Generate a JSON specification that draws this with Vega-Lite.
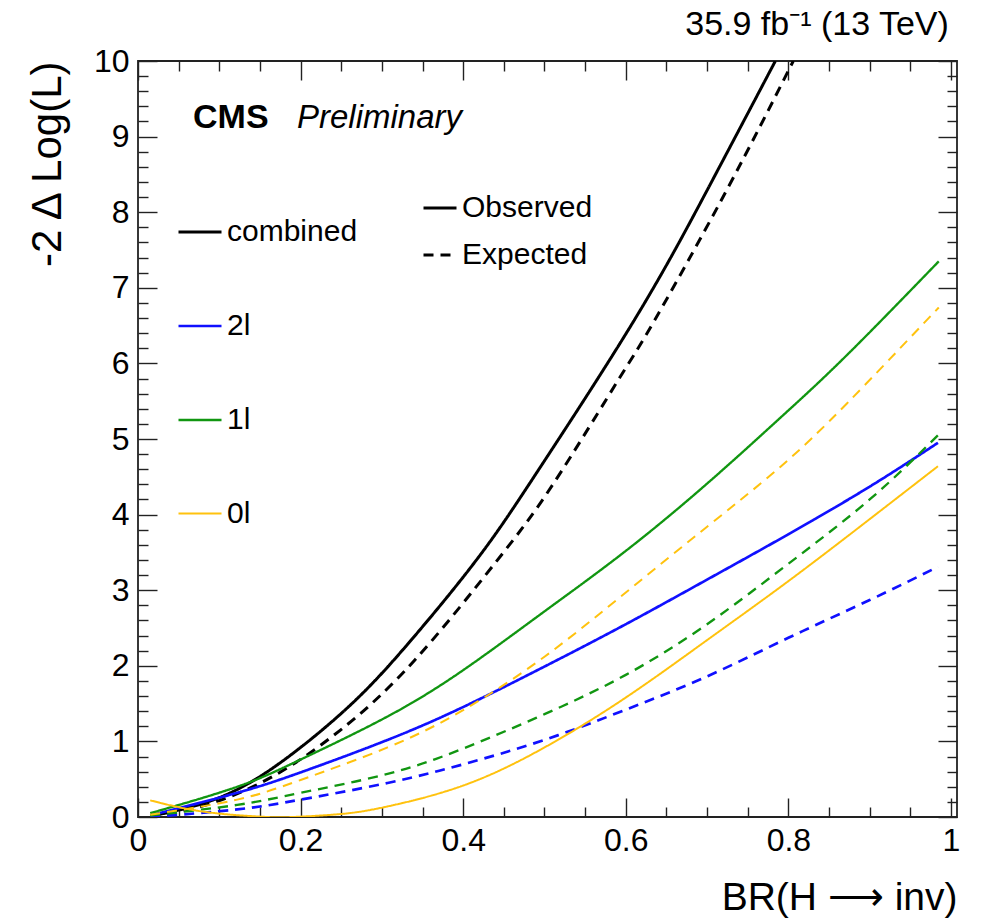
{
  "$schema": "https://vega.github.io/schema/vega-lite/v6.json",
  "autosize": {"type": "none"},
  "padding": {"left": 138, "top": 61, "right": 25, "bottom": 106},
  "width": 819,
  "height": 756,
  "config": {
    "font": "Liberation Sans",
    "view": {"stroke": "#222", "strokeWidth": 1.8},
    "axis": {"grid": false, "tickColor": "#222", "tickWidth": 1.4, "labelColor": "#000", "titleColor": "#000", "domain": false}
  },
  "title": {"text": "35.9 fb⁻¹ (13 TeV)", "anchor": "end", "fontSize": 34, "fontWeight": "normal", "baseline": "alphabetic", "offset": 8, "dy": 32, "dx": -11, "color": "#000"},
  "datasets": {
    "curves": [
      {"br": 0.015, "nll": 0.01, "series": "combined", "type": "Observed"},
      {"br": 0.08, "nll": 0.18, "series": "combined", "type": "Observed"},
      {"br": 0.155, "nll": 0.57, "series": "combined", "type": "Observed"},
      {"br": 0.25, "nll": 1.37, "series": "combined", "type": "Observed"},
      {"br": 0.328, "nll": 2.24, "series": "combined", "type": "Observed"},
      {"br": 0.417, "nll": 3.41, "series": "combined", "type": "Observed"},
      {"br": 0.495, "nll": 4.63, "series": "combined", "type": "Observed"},
      {"br": 0.612, "nll": 6.6, "series": "combined", "type": "Observed"},
      {"br": 0.702, "nll": 8.33, "series": "combined", "type": "Observed"},
      {"br": 0.784, "nll": 10.0, "series": "combined", "type": "Observed"},

      {"br": 0.015, "nll": 0.0, "series": "combined", "type": "Expected"},
      {"br": 0.081, "nll": 0.15, "series": "combined", "type": "Expected"},
      {"br": 0.163, "nll": 0.52, "series": "combined", "type": "Expected"},
      {"br": 0.249, "nll": 1.15, "series": "combined", "type": "Expected"},
      {"br": 0.34, "nll": 2.07, "series": "combined", "type": "Expected"},
      {"br": 0.44, "nll": 3.37, "series": "combined", "type": "Expected"},
      {"br": 0.511, "nll": 4.41, "series": "combined", "type": "Expected"},
      {"br": 0.593, "nll": 5.82, "series": "combined", "type": "Expected"},
      {"br": 0.636, "nll": 6.58, "series": "combined", "type": "Expected"},
      {"br": 0.724, "nll": 8.29, "series": "combined", "type": "Expected"},
      {"br": 0.806, "nll": 10.0, "series": "combined", "type": "Expected"},

      {"br": 0.015, "nll": 0.02, "series": "2l", "type": "Observed"},
      {"br": 0.122, "nll": 0.32, "series": "2l", "type": "Observed"},
      {"br": 0.2, "nll": 0.59, "series": "2l", "type": "Observed"},
      {"br": 0.307, "nll": 1.02, "series": "2l", "type": "Observed"},
      {"br": 0.401, "nll": 1.46, "series": "2l", "type": "Observed"},
      {"br": 0.5, "nll": 1.99, "series": "2l", "type": "Observed"},
      {"br": 0.6, "nll": 2.55, "series": "2l", "type": "Observed"},
      {"br": 0.7, "nll": 3.14, "series": "2l", "type": "Observed"},
      {"br": 0.8, "nll": 3.74, "series": "2l", "type": "Observed"},
      {"br": 0.9, "nll": 4.37, "series": "2l", "type": "Observed"},
      {"br": 0.984, "nll": 4.95, "series": "2l", "type": "Observed"},

      {"br": 0.015, "nll": 0.0, "series": "2l", "type": "Expected"},
      {"br": 0.122, "nll": 0.1, "series": "2l", "type": "Expected"},
      {"br": 0.2, "nll": 0.23, "series": "2l", "type": "Expected"},
      {"br": 0.307, "nll": 0.45, "series": "2l", "type": "Expected"},
      {"br": 0.401, "nll": 0.7, "series": "2l", "type": "Expected"},
      {"br": 0.5, "nll": 1.02, "series": "2l", "type": "Expected"},
      {"br": 0.6, "nll": 1.42, "series": "2l", "type": "Expected"},
      {"br": 0.7, "nll": 1.86, "series": "2l", "type": "Expected"},
      {"br": 0.8, "nll": 2.37, "series": "2l", "type": "Expected"},
      {"br": 0.9, "nll": 2.87, "series": "2l", "type": "Expected"},
      {"br": 0.984, "nll": 3.31, "series": "2l", "type": "Expected"},

      {"br": 0.015, "nll": 0.05, "series": "1l", "type": "Observed"},
      {"br": 0.122, "nll": 0.4, "series": "1l", "type": "Observed"},
      {"br": 0.2, "nll": 0.76, "series": "1l", "type": "Observed"},
      {"br": 0.307, "nll": 1.33, "series": "1l", "type": "Observed"},
      {"br": 0.401, "nll": 1.95, "series": "1l", "type": "Observed"},
      {"br": 0.5, "nll": 2.72, "series": "1l", "type": "Observed"},
      {"br": 0.6, "nll": 3.52, "series": "1l", "type": "Observed"},
      {"br": 0.7, "nll": 4.41, "series": "1l", "type": "Observed"},
      {"br": 0.79, "nll": 5.28, "series": "1l", "type": "Observed"},
      {"br": 0.872, "nll": 6.11, "series": "1l", "type": "Observed"},
      {"br": 0.985, "nll": 7.35, "series": "1l", "type": "Observed"},

      {"br": 0.015, "nll": 0.02, "series": "1l", "type": "Expected"},
      {"br": 0.122, "nll": 0.16, "series": "1l", "type": "Expected"},
      {"br": 0.2, "nll": 0.32, "series": "1l", "type": "Expected"},
      {"br": 0.307, "nll": 0.57, "series": "1l", "type": "Expected"},
      {"br": 0.401, "nll": 0.91, "series": "1l", "type": "Expected"},
      {"br": 0.5, "nll": 1.36, "series": "1l", "type": "Expected"},
      {"br": 0.6, "nll": 1.88, "series": "1l", "type": "Expected"},
      {"br": 0.7, "nll": 2.55, "series": "1l", "type": "Expected"},
      {"br": 0.8, "nll": 3.35, "series": "1l", "type": "Expected"},
      {"br": 0.9, "nll": 4.2, "series": "1l", "type": "Expected"},
      {"br": 0.984, "nll": 5.05, "series": "1l", "type": "Expected"},

      {"br": 0.015, "nll": 0.22, "series": "0l", "type": "Observed"},
      {"br": 0.081, "nll": 0.07, "series": "0l", "type": "Observed"},
      {"br": 0.15, "nll": 0.005, "series": "0l", "type": "Observed"},
      {"br": 0.19, "nll": 0.0, "series": "0l", "type": "Observed"},
      {"br": 0.25, "nll": 0.04, "series": "0l", "type": "Observed"},
      {"br": 0.307, "nll": 0.14, "series": "0l", "type": "Observed"},
      {"br": 0.401, "nll": 0.42, "series": "0l", "type": "Observed"},
      {"br": 0.5, "nll": 0.92, "series": "0l", "type": "Observed"},
      {"br": 0.6, "nll": 1.58, "series": "0l", "type": "Observed"},
      {"br": 0.7, "nll": 2.34, "series": "0l", "type": "Observed"},
      {"br": 0.8, "nll": 3.12, "series": "0l", "type": "Observed"},
      {"br": 0.9, "nll": 3.94, "series": "0l", "type": "Observed"},
      {"br": 0.984, "nll": 4.64, "series": "0l", "type": "Observed"},

      {"br": 0.015, "nll": 0.03, "series": "0l", "type": "Expected"},
      {"br": 0.122, "nll": 0.23, "series": "0l", "type": "Expected"},
      {"br": 0.2, "nll": 0.49, "series": "0l", "type": "Expected"},
      {"br": 0.307, "nll": 0.92, "series": "0l", "type": "Expected"},
      {"br": 0.401, "nll": 1.42, "series": "0l", "type": "Expected"},
      {"br": 0.5, "nll": 2.12, "series": "0l", "type": "Expected"},
      {"br": 0.6, "nll": 2.97, "series": "0l", "type": "Expected"},
      {"br": 0.7, "nll": 3.84, "series": "0l", "type": "Expected"},
      {"br": 0.79, "nll": 4.63, "series": "0l", "type": "Expected"},
      {"br": 0.872, "nll": 5.47, "series": "0l", "type": "Expected"},
      {"br": 0.985, "nll": 6.74, "series": "0l", "type": "Expected"}
    ],
    "cms": [{"label": "CMS", "bx": 0.0677, "by": 9.12}],
    "prelim": [{"label": "Preliminary", "bx": 0.1956, "by": 9.12}]
  },
  "layer": [
    {
      "data": {"name": "curves"},
      "mark": {"type": "line", "interpolate": "natural", "clip": true},
      "encoding": {
        "x": {"field": "br", "type": "quantitative", "scale": {"domain": [0, 1.0074], "nice": false, "zero": false},
          "axis": {"orient": "bottom", "values": [0, 0.2, 0.4, 0.6, 0.8, 1], "format": "~g", "tickSize": -19, "labelFontSize": 32, "labelPadding": 27, "labelFlush": false,
            "title": "BR(H ⟶ inv)", "titleFontSize": 39, "titleFontWeight": "normal", "titleAnchor": "end", "titleAlign": "right", "titleX": 819, "titleY": 92, "titleBaseline": "alphabetic"}},
        "y": {"field": "nll", "type": "quantitative", "scale": {"domain": [0, 10], "nice": false},
          "axis": {"orient": "left", "values": [0, 1, 2, 3, 4, 5, 6, 7, 8, 9, 10], "tickSize": -19, "labelFontSize": 32, "labelPadding": 28, "labelFlush": false,
            "title": "-2 Δ Log(L)", "titleFontSize": 42, "titleFontWeight": "normal", "titleAngle": -90, "titleAnchor": "end", "titleAlign": "right", "titleX": -78, "titleY": 0, "titleBaseline": "alphabetic"}},
        "color": {"field": "series", "type": "nominal",
          "scale": {"domain": ["combined", "2l", "1l", "0l"], "range": ["#000000", "#1010ff", "#119611", "#ffc20e"]},
          "legend": {"orient": "none", "legendX": 39, "legendY": 148, "title": null, "symbolType": "stroke", "symbolSize": 1849, "symbolStrokeWidth": 2.5,
            "labelFontSize": 30, "labelOffset": 4, "rowPadding": 56, "padding": 0, "labelColor": "#000",
            "encode": {"symbols": {"update": {"strokeWidth": {"signal": "datum.value === 'combined' ? 3 : 2"}}}}}},
        "strokeDash": {"field": "type", "type": "nominal",
          "scale": {"domain": ["Observed", "Expected"], "range": [[1, 0], [10, 7]]},
          "legend": {"orient": "none", "legendX": 284, "legendY": 129, "title": null, "symbolType": "stroke", "symbolSize": 1089, "symbolStrokeColor": "#000", "symbolStrokeWidth": 3,
            "labelFontSize": 30, "labelOffset": 4, "rowPadding": 14, "padding": 0, "labelColor": "#000"}},
        "strokeWidth": {"field": "series", "type": "nominal", "scale": {"domain": ["combined", "2l", "1l", "0l"], "range": [3, 2, 2, 2]}, "legend": null}
      }
    },
    {
      "data": {"name": "curves"},
      "mark": {"type": "point", "opacity": 0},
      "encoding": {
        "x": {"field": "br", "type": "quantitative", "axis": {"orient": "bottom", "values": [0.05, 0.1, 0.15, 0.25, 0.3, 0.35, 0.45, 0.5, 0.55, 0.65, 0.7, 0.75, 0.85, 0.9, 0.95], "tickSize": -10, "labels": false, "title": null}},
        "y": {"field": "nll", "type": "quantitative", "axis": {"orient": "left", "values": [0.2,0.4,0.6,0.8,1.2,1.4,1.6,1.8,2.2,2.4,2.6,2.8,3.2,3.4,3.6,3.8,4.2,4.4,4.6,4.8,5.2,5.4,5.6,5.8,6.2,6.4,6.6,6.8,7.2,7.4,7.6,7.8,8.2,8.4,8.6,8.8,9.2,9.4,9.6,9.8], "tickSize": -10, "labels": false, "title": null}}
      }
    },
    {
      "data": {"name": "curves"},
      "mark": {"type": "point", "opacity": 0},
      "encoding": {
        "x": {"field": "br", "type": "quantitative", "axis": {"orient": "top", "values": [0, 0.2, 0.4, 0.6, 0.8, 1], "tickSize": -19, "labels": false, "title": null}},
        "y": {"field": "nll", "type": "quantitative", "axis": {"orient": "right", "values": [0, 1, 2, 3, 4, 5, 6, 7, 8, 9, 10], "tickSize": -19, "labels": false, "title": null}}
      }
    },
    {
      "data": {"name": "curves"},
      "mark": {"type": "point", "opacity": 0},
      "encoding": {
        "x": {"field": "br", "type": "quantitative", "axis": {"orient": "top", "values": [0.05, 0.1, 0.15, 0.25, 0.3, 0.35, 0.45, 0.5, 0.55, 0.65, 0.7, 0.75, 0.85, 0.9, 0.95], "tickSize": -10, "labels": false, "title": null}},
        "y": {"field": "nll", "type": "quantitative", "axis": {"orient": "right", "values": [0.2,0.4,0.6,0.8,1.2,1.4,1.6,1.8,2.2,2.4,2.6,2.8,3.2,3.4,3.6,3.8,4.2,4.4,4.6,4.8,5.2,5.4,5.6,5.8,6.2,6.4,6.6,6.8,7.2,7.4,7.6,7.8,8.2,8.4,8.6,8.8,9.2,9.4,9.6,9.8], "tickSize": -10, "labels": false, "title": null}}
      }
    },
    {
      "data": {"name": "cms"},
      "mark": {"type": "text", "fontWeight": "bold", "fontSize": 34, "align": "left", "baseline": "alphabetic", "color": "#000"},
      "encoding": {
        "x": {"field": "bx", "type": "quantitative", "axis": null},
        "y": {"field": "by", "type": "quantitative", "axis": null},
        "text": {"field": "label"}
      }
    },
    {
      "data": {"name": "prelim"},
      "mark": {"type": "text", "fontStyle": "italic", "fontSize": 33, "align": "left", "baseline": "alphabetic", "color": "#000"},
      "encoding": {
        "x": {"field": "bx", "type": "quantitative", "axis": null},
        "y": {"field": "by", "type": "quantitative", "axis": null},
        "text": {"field": "label"}
      }
    }
  ],
  "resolve": {"axis": {"x": "independent", "y": "independent"}}
}
